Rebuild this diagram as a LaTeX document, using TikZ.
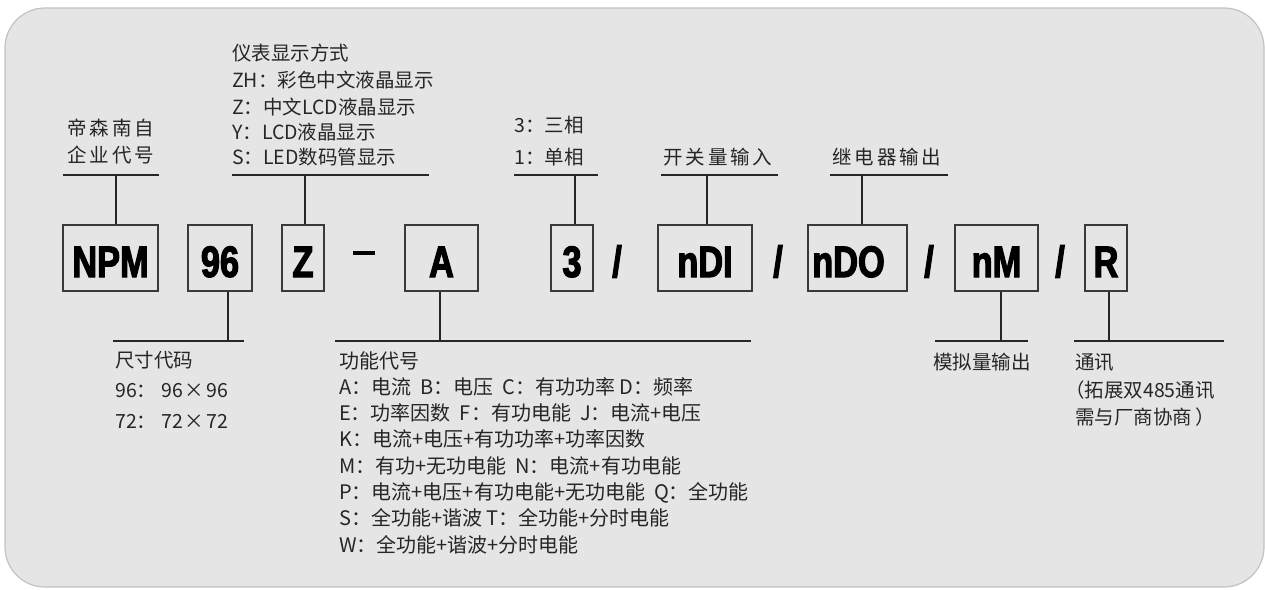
\documentclass[tikz,border=0pt]{standalone}
\usepackage{fontspec}
\setmainfont{Noto Sans CJK SC}
\newfontfamily\boxfont{Liberation Sans}[FakeStretch=0.78, BoldFeatures={FakeBold=2.6}]
\definecolor{panel}{HTML}{E5E5E5}
\definecolor{panelline}{HTML}{C2C2C2}
\definecolor{ink}{HTML}{262626}
\definecolor{boxink}{HTML}{3A3A3A}
\newcommand{\mygap}{\hspace{0.45em}}
\begin{document}
\begin{tikzpicture}[x=1pt,y=-1pt,
  codebox/.style={draw=boxink, line width=1.4pt, minimum height=66pt, inner sep=0pt,
    text height=38pt, text depth=0pt, text=black,
    font=\boxfont\bfseries\fontsize{44}{44}\selectfont},
  sepmark/.style={inner sep=0pt, text height=38pt, text depth=0pt, minimum height=66pt, text=black,
    font=\boxfont\bfseries\fontsize{44}{44}\selectfont},
  lbl/.style={anchor=base west, inner sep=0pt, text=ink, font=\fontsize{19.5}{26}\selectfont},
  funclbl/.style={lbl, font=\fontsize{20}{26}\selectfont},
  widelbl/.style={lbl, font=\fontsize{19.5}{26}\selectfont\addfontfeature{LetterSpace=15}},
  rule/.style={draw=ink, line width=1.8pt},
  stem/.style={draw=ink, line width=1.4pt},
]
\path[use as bounding box] (0,0) rectangle (1265,589);
% panel
\draw[fill=panel, draw=panelline, line width=1.2pt, rounded corners=40pt] (5,8) rectangle (1264,587);

% code boxes
\node[codebox, minimum width=95pt] (npm) at (110.5,258) {NPM};
\node[codebox, minimum width=64pt] (size) at (220,258) {96};
\node[codebox, minimum width=42pt] (disp) at (303,258) {Z};
\node[codebox, minimum width=73pt] (func) at (441.5,258) {A};
\node[codebox, minimum width=42pt] (phase) at (572,258) {3};
\node[codebox, minimum width=94pt] (di) at (705,258) {nDI};
\node[codebox, minimum width=99pt] (do) at (857.5,258) {nDO\hspace*{18pt}};
\node[codebox, minimum width=83pt] (am) at (996.5,258) {nM};
\node[codebox, minimum width=42pt] (comm) at (1106,258) {R};

% separators
\draw[black, line width=3.5pt] (353,253) -- (375,253);
\node[sepmark] (s1) at (617,258) {/};
\node[sepmark] (s2) at (778,258) {/};
\node[sepmark] (s3) at (929,258) {/};
\node[sepmark] (s4) at (1060,258) {/};

% top connectors
\coordinate (tnpm) at (116,175);
\coordinate (tdisp) at (305,175);
\coordinate (tphase) at (575,175);
\coordinate (tdi) at (707,175);
\coordinate (tdo) at (862,175);
\draw[stem] (tnpm) -- (tnpm |- npm.north);
\draw[stem] (tdisp) -- (tdisp |- disp.north);
\draw[stem] (tphase) -- (tphase |- phase.north);
\draw[stem] (tdi) -- (tdi |- di.north);
\draw[stem] (tdo) -- (tdo |- do.north);
\coordinate (tnpmL) at (63,175);   \coordinate (tnpmR) at (159,175);
\coordinate (tdispL) at (232,175); \coordinate (tdispR) at (429,175);
\coordinate (tphL) at (514,175);   \coordinate (tphR) at (598,175);
\coordinate (tdiL) at (661,175);   \coordinate (tdiR) at (778,175);
\coordinate (tdoL) at (830,175);   \coordinate (tdoR) at (948,175);
\draw[rule] (tnpmL) -- (tnpmR);
\draw[rule] (tdispL) -- (tdispR);
\draw[rule] (tphL) -- (tphR);
\draw[rule] (tdiL) -- (tdiR);
\draw[rule] (tdoL) -- (tdoR);

% bottom connectors
\coordinate (bsize) at (228,341);
\coordinate (bfunc) at (440,341);
\coordinate (bam) at (1001,341);
\coordinate (bcomm) at (1109,341);
\draw[stem] (bsize) -- (bsize |- size.south);
\draw[stem] (bfunc) -- (bfunc |- func.south);
\draw[stem] (bam) -- (bam |- am.south);
\draw[stem] (bcomm) -- (bcomm |- comm.south);
\coordinate (bsizeL) at (113,341); \coordinate (bsizeR) at (244,341);
\coordinate (bfuncL) at (335,341); \coordinate (bfuncR) at (751,341);
\coordinate (bamL) at (935,341);   \coordinate (bamR) at (1028,341);
\coordinate (bcomL) at (1074,341); \coordinate (bcomR) at (1224,341);
\draw[rule] (bsizeL) -- (bsizeR);
\draw[rule] (bfuncL) -- (bfuncR);
\draw[rule] (bamL) -- (bamR);
\draw[rule] (bcomL) -- (bcomR);

% top labels
\node[widelbl] (co1) at (67,135) {帝森南自};
\node[widelbl] (co2) at (67,162) {企业代号};
\node[lbl] (d0) at (232,60) {仪表显示方式};
\node[lbl] (d1) at (232,87) {ZH：彩色中文液晶显示};
\node[lbl] (d2) at (232,114) {Z：中文LCD液晶显示};
\node[lbl] (d3) at (232,139) {Y：LCD液晶显示};
\node[lbl] (d4) at (232,164) {S：LED数码管显示};
\node[lbl] (p1) at (514,132) {3：三相};
\node[lbl] (p2) at (514,164) {1：单相};
\node[widelbl] (dil) at (663,164) {开关量输入};
\node[widelbl] (dol) at (832,164) {继电器输出};

% bottom labels
\node[lbl] (z0) at (115,367) {尺寸代码};
\node[lbl] (z1) at (115,397) {96：\hspace{5pt}96\hspace{2pt}×\hspace{2pt}96};
\node[lbl] (z2) at (115,428) {72：\hspace{5pt}72\hspace{2pt}×\hspace{2pt}72};
\node[funclbl] (f0) at (339,368) {功能代号};
\node[funclbl] (f1) at (339,394.3) {A：电流\mygap B：电压\mygap C：有功功率 D：频率};
\node[funclbl] (f2) at (339,420.6) {E：功率因数\mygap F：有功电能\mygap J：电流+电压};
\node[funclbl] (f3) at (339,446.9) {K：电流+电压+有功功率+功率因数};
\node[funclbl] (f4) at (339,473.2) {M：有功+无功电能\mygap N：电流+有功电能};
\node[funclbl] (f5) at (339,499.5) {P：电流+电压+有功电能+无功电能\mygap Q：全功能};
\node[funclbl] (f6) at (339,525.8) {S：全功能+谐波 T：全功能+分时电能};
\node[funclbl] (f7) at (339,552.1) {W：全功能+谐波+分时电能};
\node[lbl] (aml) at (933,369) {模拟量输出};
\node[lbl] (c0) at (1075,369) {通讯};
\node[lbl] (c1) at (1075,397) {\hspace*{-10pt}（拓展双485通讯};
\node[lbl] (c2) at (1075,424) {需与厂商协商\hspace{3pt}）};
\end{tikzpicture}
\end{document}
